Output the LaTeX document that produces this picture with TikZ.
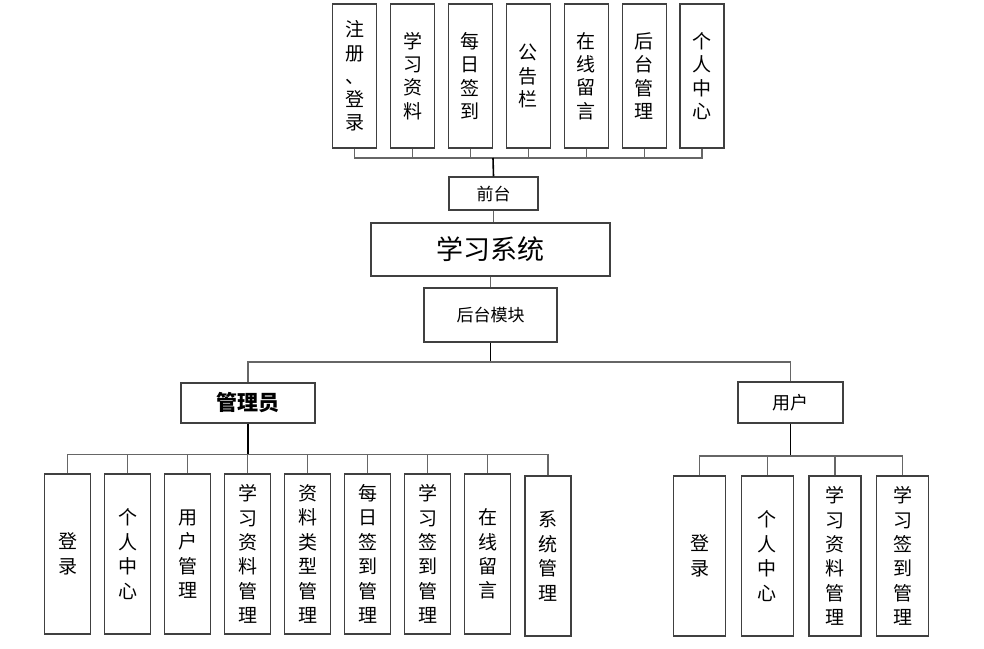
\documentclass[tikz,border=0pt]{standalone}
\usepackage{fontspec}
\setmainfont{Noto Sans CJK SC}
\usetikzlibrary{calc}

\tikzset{
  box/.style={draw=black!75, line width=0.6pt, fill=white, inner sep=0pt, align=center},
  topbox/.style={box, minimum width=22pt, minimum height=72pt, font=\fontsize{9.5}{11.6}\selectfont},
  lowbox/.style={box, minimum height=80pt, font=\fontsize{9.5}{12.2}\selectfont},
  link/.style={draw=black!60, line width=0.6pt},
  trunk/.style={draw=black, line width=0.8pt},
}

\begin{document}
\begin{tikzpicture}[x=0.5pt, y=-0.5pt]
  \useasboundingbox (0,0) rectangle (984,648);

  % front-end functions (7 columns, pitch 57.9)
  \foreach \i/\txt in {0/{注\\册\\、\\登\\录}, 1/{学\\习\\资\\料}, 2/{每\\日\\签\\到},
      3/{公\\告\\栏}, 4/{在\\线\\留\\言}, 5/{后\\台\\管\\理}, 6/{个\\人\\中\\心}} {
    \node[topbox] (top\i) at (354.6 + 57.9*\i, 76) {\txt};
  }

  % middle column
  \node[box, minimum width=44.5pt, minimum height=16.5pt, font=\fontsize{8.5}{10}\selectfont] (qiantai) at (493.5, 193.5) {前台};
  \node[box, minimum width=119.5pt, minimum height=26.5pt, font=\fontsize{13.5}{15}\selectfont] (system) at (490.5, 249.5) {学习系统};
  \node[box, minimum width=66.5pt, minimum height=27pt, font=\fontsize{8.5}{10}\selectfont] (houtai) at (490.5, 315) {后台模块};

  % roles
  \node[box, minimum width=67pt, minimum height=20pt, font=\fontsize{10.5}{12}\selectfont\bfseries] (admin) at (248, 403) {管理员};
  \node[box, minimum width=52.5pt, minimum height=20.5pt, font=\fontsize{9}{11}\selectfont] (user) at (790.5, 402.5) {用户};

  % admin functions (9 columns, pitch 60)
  \foreach \i/\txt in {0/{登\\录}, 1/{个\\人\\中\\心}, 2/{用\\户\\管\\理}, 3/{学\\习\\资\\料\\管\\理},
      4/{资\\料\\类\\型\\管\\理}, 5/{每\\日\\签\\到\\管\\理}, 6/{学\\习\\签\\到\\管\\理},
      7/{在\\线\\留\\言}} {
    \node[lowbox, minimum width=23pt] (adm\i) at (67.5 + 60*\i, 554) {\txt};
  }
  \node[lowbox, minimum width=23pt] (adm8) at (548, 556) {系\\统\\管\\理};

  % user functions (4 columns, pitch 67.7)
  \foreach \i/\txt in {0/{登\\录}, 1/{个\\人\\中\\心}, 2/{学\\习\\资\\料\\管\\理}, 3/{学\\习\\签\\到\\管\\理}} {
    \node[lowbox, minimum width=26pt] (usr\i) at (699.7 + 67.67*\i, 556) {\txt};
  }

  % bus points
  \coordinate (topbus) at (493, 158);
  \coordinate (mainbus) at (490.5, 362);
  \coordinate (admbus) at (248, 454.5);
  \coordinate (usrbus) at (790.5, 456);

  % front-end tree
  \foreach \i in {0,...,6} {
    \draw[link] (top\i.south) |- (topbus);
  }
  \draw[trunk] (topbus) -- (qiantai.north);
  \draw[link] (qiantai.south) -- (qiantai.south |- system.north);
  \draw[link] (system.south) -- (houtai.north);

  % back-end tree
  \draw[trunk, line width=0.6pt] (houtai.south) -- (mainbus);
  \draw[link] (mainbus) -| (admin.north);
  \draw[link] (mainbus) -| (user.north);
  \draw[trunk] (admin.south) -- (admbus);
  \draw[trunk] (user.south) -- (usrbus);
  \foreach \i in {0,...,8} {
    \draw[link] (adm\i.north) |- (admbus);
  }
  \foreach \i in {0,...,3} {
    \draw[link] (usr\i.north) |- (usrbus);
  }
\end{tikzpicture}
\end{document}
